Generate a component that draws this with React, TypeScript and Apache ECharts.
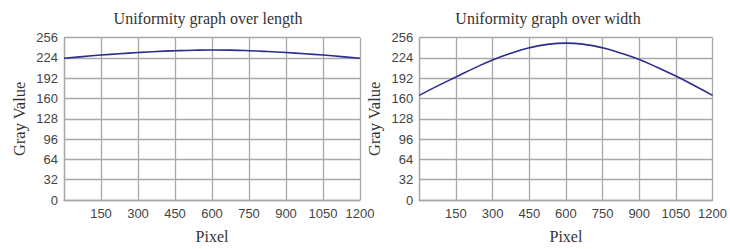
import React, { useEffect, useRef } from "react";
import * as echarts from "echarts";

const xLength = [0, 75, 150, 225, 300, 375, 450, 525, 600, 675, 750, 825, 900, 975, 1050, 1125, 1200];
const grayLength = [223.5, 226.2, 228.6, 230.7, 232.6, 234.2, 235.4, 236.3, 236.7, 236.4, 235.5, 234.2, 232.6, 230.7, 228.6, 226.2, 223.5];

const xWidth = [0, 75, 150, 225, 300, 375, 450, 525, 600, 675, 750, 825, 900, 975, 1050, 1125, 1200];
const grayWidth = [165, 180, 194, 208, 221, 231.5, 240, 245.5, 247.5, 245.5, 240, 231.5, 221.5, 209, 195.5, 180.5, 165];

const titles = ["Uniformity graph over length", "Uniformity graph over width"];
const xAxisName = "Pixel";
const yAxisName = "Gray Value";

export default function App() {
  const ref = useRef<HTMLDivElement>(null);
  useEffect(() => {
    document.body.style.margin = "0";
    const chart = echarts.init(ref.current!, null, { renderer: "svg" });
    const sans = "Liberation Sans";
    const serif = "Liberation Serif";
    const gridColor = "#a8a8a8";
    const mkX = (i: number) => ({
      type: "value",
      gridIndex: i,
      min: 0,
      max: 1200,
      interval: 150,
      name: xAxisName,
      nameLocation: "middle",
      nameGap: 28,
      nameTextStyle: { fontFamily: serif, fontSize: 16, color: "#333" },
      axisLine: { show: true, lineStyle: { color: gridColor, width: 1.3 } },
      axisTick: { show: false },
      axisLabel: {
        fontFamily: sans,
        fontSize: 13,
        color: "#444",
        margin: 7,
        formatter: (v: number) => (v === 0 ? "" : String(v)),
      },
      splitLine: { show: true, lineStyle: { color: gridColor, width: 1.3 } },
    });
    const mkY = (i: number) => ({
      type: "value",
      gridIndex: i,
      min: 0,
      max: 256,
      interval: 32,
      name: yAxisName,
      nameLocation: "middle",
      nameGap: 36,
      nameTextStyle: { fontFamily: serif, fontSize: 16.5, color: "#333" },
      axisLine: { show: true, lineStyle: { color: gridColor, width: 1.3 } },
      axisTick: { show: false },
      axisLabel: { fontFamily: sans, fontSize: 13, color: "#444", margin: 6 },
      splitLine: { show: true, lineStyle: { color: gridColor, width: 1.3 } },
    });
    chart.setOption({
      animation: false,
      backgroundColor: "#fff",
      title: [
        {
          text: titles[0],
          left: 203,
          top: 5,
          textAlign: "center",
          textStyle: { fontFamily: serif, fontSize: 16, fontWeight: "normal", color: "#333" },
        },
        {
          text: titles[1],
          left: 543,
          top: 5,
          textAlign: "center",
          textStyle: { fontFamily: serif, fontSize: 16, fontWeight: "normal", color: "#333" },
        },
      ],
      grid: [
        { left: 64, right: 370, top: 37.7, bottom: 46.7 },
        { left: 419.3, right: 15.3, top: 37.7, bottom: 46.7 },
      ],
      xAxis: [mkX(0), mkX(1)],
      yAxis: [mkY(0), mkY(1)],
      series: [
        {
          type: "line",
          xAxisIndex: 0,
          yAxisIndex: 0,
          data: xLength.map((x, i) => [x, grayLength[i]]),
          smooth: true,
          showSymbol: false,
          lineStyle: { color: "#2b2d8e", width: 1.6 },
        },
        {
          type: "line",
          xAxisIndex: 1,
          yAxisIndex: 1,
          data: xWidth.map((x, i) => [x, grayWidth[i]]),
          smooth: true,
          showSymbol: false,
          lineStyle: { color: "#2b2d8e", width: 1.6 },
        },
      ],
    });
    return () => chart.dispose();
  }, []);
  return <div ref={ref} style={{ width: 730, height: 249 }} />;
}
